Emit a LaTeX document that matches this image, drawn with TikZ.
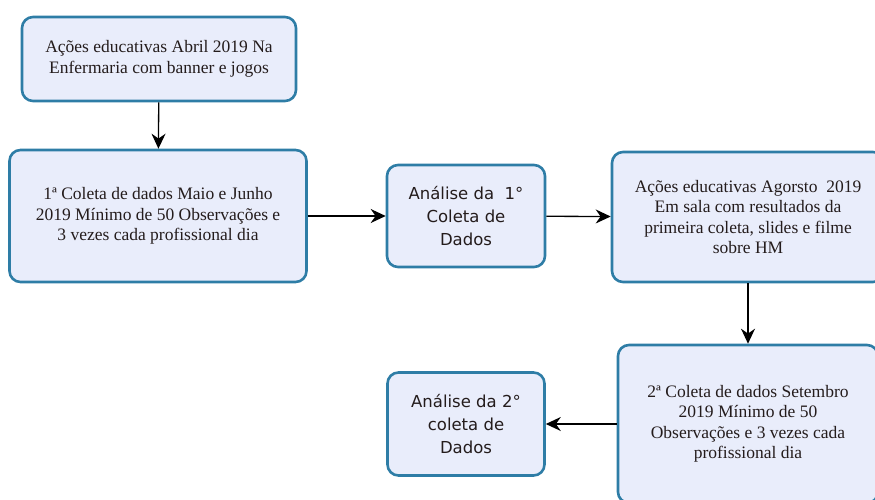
\documentclass[tikz,border=0pt]{standalone}
\usepackage{fontspec}
\setmainfont{Liberation Serif}
\newfontfamily\sansbox{DejaVu Sans}
\usetikzlibrary{arrows.meta}
\definecolor{boxline}{HTML}{2E7DA6}
\definecolor{boxfill}{HTML}{E9EDFB}
\definecolor{boxtext}{HTML}{241C1C}
\tikzset{
  etapa/.style={draw=boxline, fill=boxfill, line width=2.6pt, rounded corners=11pt,
    align=center, text=boxtext, inner sep=0pt,
    font=\fontsize{17.5}{20.5}\selectfont},
  analise/.style={etapa, font=\sansbox\fontsize{16.5}{23}\selectfont},
  seta/.style={-{Stealth[length=15pt,width=14pt]}, line width=1.3pt, black}
}
\begin{document}
\begin{tikzpicture}[x=1pt,y=1pt]
\clip (0,0) rectangle (875,-500);
\node (acoes1) [etapa, minimum width=274, minimum height=84] at (159,-59)
  {Ações educativas Abril 2019 Na\\Enfermaria com banner e jogos};
\node (coleta1) [etapa, minimum width=297, minimum height=132] at (158,-216)
  {1ª Coleta de dados Maio e Junho\\2019 Mínimo de 50 Observações e\\3 vezes cada profissional dia};
\node (analise1) [analise, minimum width=158, minimum height=102] at (466,-216)
  {Análise da\ \ 1°\\Coleta de\\Dados};
\node (acoes2) [etapa, minimum width=272, minimum height=130] at (748,-217)
  {Ações educativas Agorsto\ \ 2019\\Em sala com resultados da\\primeira coleta, slides e filme\\sobre HM};
\node (coleta2) [etapa, minimum width=260, minimum height=158] at (748,-424)
  {2ª Coleta de dados Setembro\\2019 Mínimo de 50\\Observações e 3 vezes cada\\profissional dia};
\node (analise2) [analise, minimum width=157, minimum height=103] at (466,-424)
  {Análise da 2°\\coleta de\\Dados};
\draw [seta] (acoes1) -- (coleta1);
\draw [seta] (coleta1) -- (analise1);
\draw [seta] (analise1) -- (acoes2);
\draw [seta] (acoes2) -- (coleta2);
\draw [seta] (coleta2) -- (analise2);
\end{tikzpicture}
\end{document}
